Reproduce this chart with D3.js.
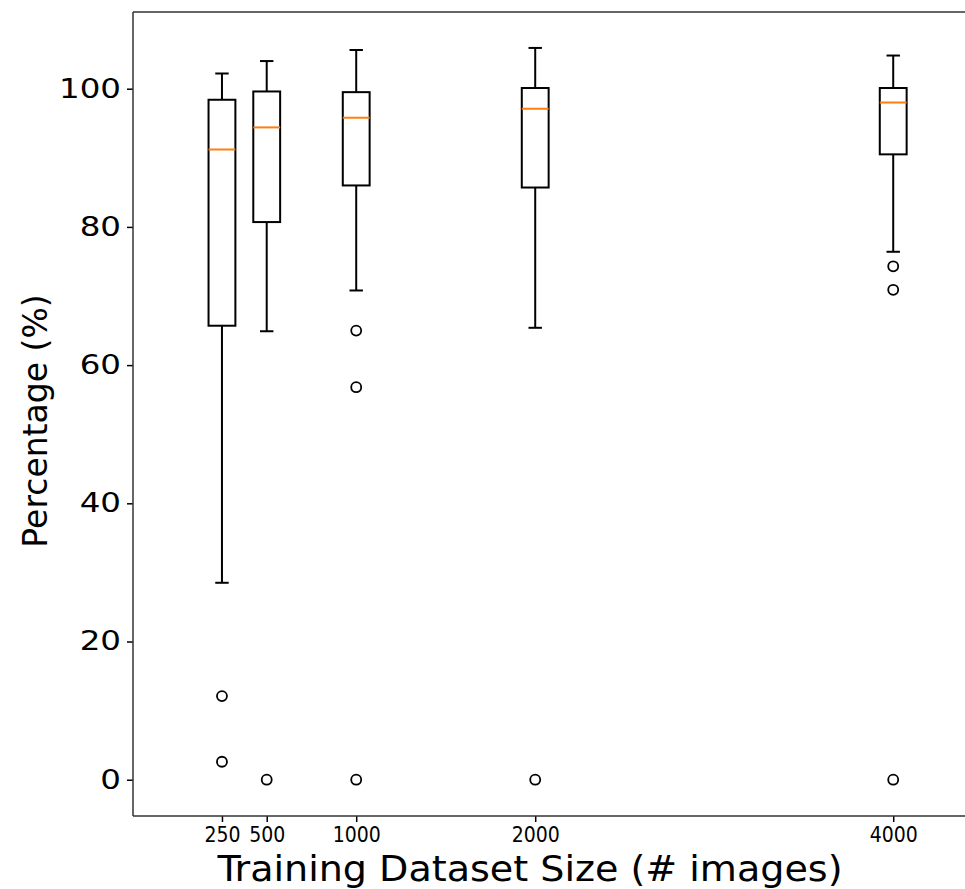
<!DOCTYPE html>
<html>
<head>
<meta charset="utf-8">
<script src="https://cdn.jsdelivr.net/npm/d3@7"></script>
<style>
body { margin: 0; background: #fff; }
svg { display: block; font-family: "DejaVu Sans", sans-serif; }
</style>
</head>
<body>
<script>
// dataset sizes used as box positions
var sizes = [250, 500, 1000, 2000, 4000];
var whiskerLow = [28.5, 64.9, 70.8, 65.4, 76.4];
var q1 = [65.7, 80.7, 86.0, 85.7, 90.5];
var medians = [91.2, 94.4, 95.8, 97.1, 98.0];
var q3 = [98.4, 99.6, 99.5, 100.1, 100.1];
var whiskerHigh = [102.2, 104.0, 105.6, 105.9, 104.8];
var outliers = [[12.1, 2.6], [0], [65.0, 56.8, 0], [0], [74.3, 70.9, 0]];
var yTicks = [0, 20, 40, 60, 80, 100];

var W = 965, H = 889;
var mLeft = 133, mTop = 12, mBottom = 816;

var svg = d3.select("body").append("svg").attr("width", W).attr("height", H);

var x = d3.scaleLinear().domain([-247, 4500]).range([mLeft, mLeft + 4747 * 0.179]);
var y = d3.scaleLinear().domain([-5.25, 111.1]).range([mBottom, mTop]);

var boxes = sizes.map(function(s, i) {
  return {s: s, lo: whiskerLow[i], q1: q1[i], med: medians[i], q3: q3[i], hi: whiskerHigh[i], out: outliers[i]};
});

var halfW = 75, capW = 37.5;
var g = svg.append("g");

// whiskers
g.selectAll("line.wlo").data(boxes).enter().append("line")
  .attr("x1", function(d){ return x(d.s); }).attr("x2", function(d){ return x(d.s); })
  .attr("y1", function(d){ return y(d.q1); }).attr("y2", function(d){ return y(d.lo); })
  .attr("stroke", "#000").attr("stroke-width", 2);
g.selectAll("line.whi").data(boxes).enter().append("line")
  .attr("x1", function(d){ return x(d.s); }).attr("x2", function(d){ return x(d.s); })
  .attr("y1", function(d){ return y(d.q3); }).attr("y2", function(d){ return y(d.hi); })
  .attr("stroke", "#000").attr("stroke-width", 2);

// caps
g.selectAll("line.clo").data(boxes).enter().append("line")
  .attr("x1", function(d){ return x(d.s - capW); }).attr("x2", function(d){ return x(d.s + capW); })
  .attr("y1", function(d){ return y(d.lo); }).attr("y2", function(d){ return y(d.lo); })
  .attr("stroke", "#000").attr("stroke-width", 2);
g.selectAll("line.chi").data(boxes).enter().append("line")
  .attr("x1", function(d){ return x(d.s - capW); }).attr("x2", function(d){ return x(d.s + capW); })
  .attr("y1", function(d){ return y(d.hi); }).attr("y2", function(d){ return y(d.hi); })
  .attr("stroke", "#000").attr("stroke-width", 2);

// boxes
g.selectAll("rect.box").data(boxes).enter().append("rect")
  .attr("x", function(d){ return x(d.s - halfW); })
  .attr("width", function(d){ return x(d.s + halfW) - x(d.s - halfW); })
  .attr("y", function(d){ return y(d.q3); })
  .attr("height", function(d){ return y(d.q1) - y(d.q3); })
  .attr("fill", "none").attr("stroke", "#000").attr("stroke-width", 2);

// medians
g.selectAll("line.med").data(boxes).enter().append("line")
  .attr("x1", function(d){ return x(d.s - halfW); }).attr("x2", function(d){ return x(d.s + halfW); })
  .attr("y1", function(d){ return y(d.med); }).attr("y2", function(d){ return y(d.med); })
  .attr("stroke", "#ff7f0e").attr("stroke-width", 2);

// fliers
var fl = [];
boxes.forEach(function(b){ b.out.forEach(function(v){ fl.push({s: b.s, v: v}); }); });
g.selectAll("circle.fl").data(fl).enter().append("circle")
  .attr("cx", function(d){ return x(d.s); }).attr("cy", function(d){ return y(d.v); })
  .attr("r", 5).attr("fill", "none").attr("stroke", "#000").attr("stroke-width", 1.8);

// axes
var yAxis = svg.append("g").attr("transform", "translate(" + mLeft + ",0)")
  .call(d3.axisLeft(y).tickValues(yTicks).tickSize(6).tickPadding(6));
yAxis.select(".domain").remove();
yAxis.selectAll("line").attr("stroke", "#000").attr("stroke-width", 1.5);
// tick labels in the picture are drawn wide
yAxis.selectAll("text").attr("font-size", 26).attr("fill", "#000")
  .attr("font-family", "DejaVu Sans")
  .attr("x", -12 / 1.25).attr("transform", "scale(1.25,1)");

var xAxis = svg.append("g").attr("transform", "translate(0," + mBottom + ")")
  .call(d3.axisBottom(x).tickValues(sizes).tickFormat(d3.format("d")).tickSize(6).tickPadding(5));
xAxis.select(".domain").remove();
xAxis.selectAll("line").attr("stroke", "#000").attr("stroke-width", 1.5);
xAxis.selectAll("text").attr("font-size", 21).attr("fill", "#000")
  .attr("font-family", "DejaVu Sans Condensed, DejaVu Sans");

// spines
svg.append("line").attr("x1", mLeft).attr("x2", W).attr("y1", mTop).attr("y2", mTop)
  .attr("stroke", "#333").attr("stroke-width", 1.5);
svg.append("line").attr("x1", mLeft).attr("x2", W).attr("y1", mBottom).attr("y2", mBottom)
  .attr("stroke", "#333").attr("stroke-width", 1.5);
svg.append("line").attr("x1", mLeft).attr("x2", mLeft).attr("y1", mTop).attr("y2", mBottom)
  .attr("stroke", "#333").attr("stroke-width", 1.5);

// labels
svg.append("text").attr("x", 530).attr("y", 881).attr("text-anchor", "middle")
  .attr("font-size", 35).attr("font-family", "DejaVu Sans Condensed, DejaVu Sans")
  .attr("textLength", 625).attr("lengthAdjust", "spacingAndGlyphs")
  .text("Training Dataset Size (# images)");
svg.append("text").attr("transform", "translate(47,421) rotate(-90)").attr("text-anchor", "middle")
  .attr("font-size", 33)
  .text("Percentage (%)");
</script>
</body>
</html>
